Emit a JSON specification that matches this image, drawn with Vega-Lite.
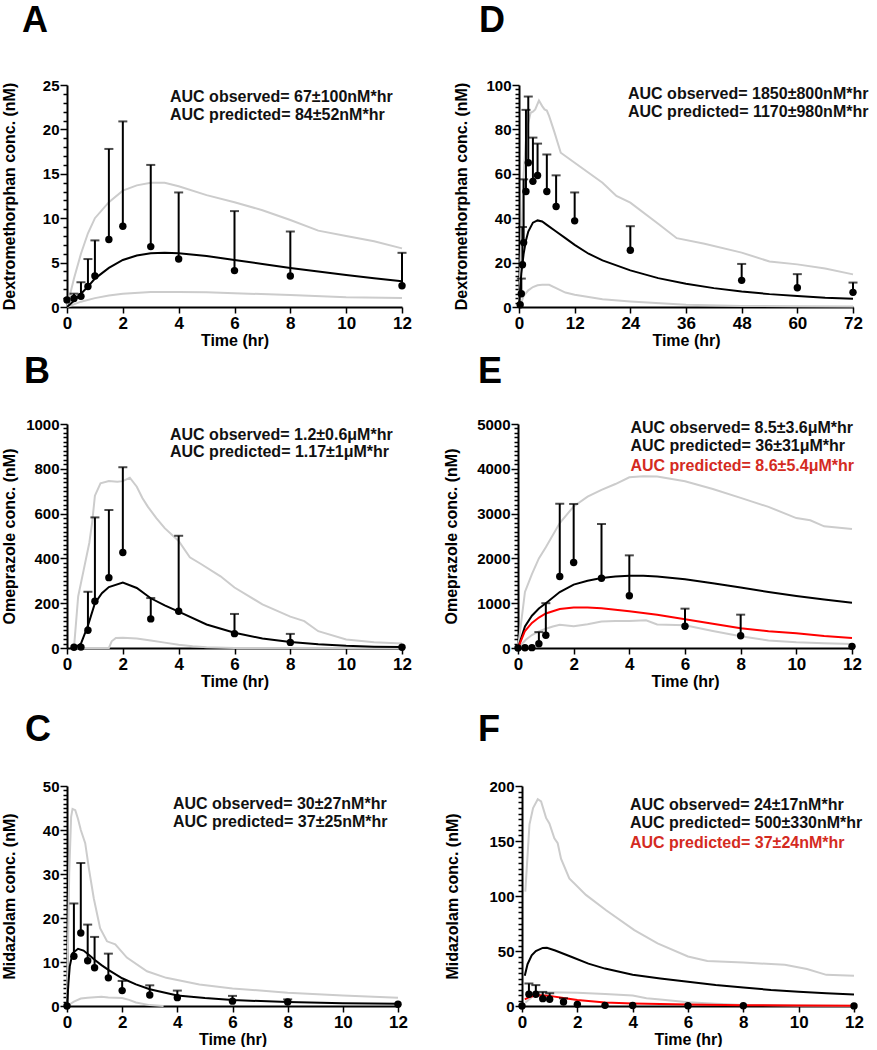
{
"$schema": "https://vega.github.io/schema/vega-lite/v6.json",
"padding": {"left": 0, "top": 3, "right": 0, "bottom": 0},
"datasets": {
"A": [
{"s":"obs","t":0,"v":0.8},{"s":"obs","t":0.25,"v":0.95,"hi":1.5},{"s":"obs","t":0.5,"v":1.2,"hi":2.8},{"s":"obs","t":0.75,"v":2.3,"hi":5.4},{"s":"obs","t":1,"v":3.5,"hi":7.5},{"s":"obs","t":1.5,"v":7.6,"hi":17.8},{"s":"obs","t":2,"v":9.1,"hi":20.9},{"s":"obs","t":3,"v":6.8,"hi":16.0},{"s":"obs","t":4,"v":5.4,"hi":12.9},{"s":"obs","t":6,"v":4.1,"hi":10.8},{"s":"obs","t":8,"v":3.5,"hi":8.5},{"s":"obs","t":12,"v":2.4,"hi":6.1},
{"s":"mean","t":0,"v":0},{"s":"mean","t":0.25,"v":0.7},{"s":"mean","t":0.5,"v":1.5},{"s":"mean","t":0.75,"v":2.3},{"s":"mean","t":1,"v":3.2},{"s":"mean","t":1.5,"v":4.4},{"s":"mean","t":2,"v":5.3},{"s":"mean","t":2.5,"v":5.8},{"s":"mean","t":3,"v":6.05},{"s":"mean","t":3.5,"v":6.1},{"s":"mean","t":4,"v":6.05},{"s":"mean","t":5,"v":5.75},{"s":"mean","t":6,"v":5.3},{"s":"mean","t":7,"v":4.85},{"s":"mean","t":8,"v":4.4},{"s":"mean","t":9,"v":4.0},{"s":"mean","t":10,"v":3.6},{"s":"mean","t":11,"v":3.25},{"s":"mean","t":12,"v":2.9},
{"s":"upper","t":0,"v":0},{"s":"upper","t":0.25,"v":3.2},{"s":"upper","t":0.5,"v":6.0},{"s":"upper","t":0.75,"v":8.3},{"s":"upper","t":1,"v":10.0},{"s":"upper","t":1.5,"v":11.8},{"s":"upper","t":2,"v":13.1},{"s":"upper","t":2.5,"v":13.7},{"s":"upper","t":3,"v":14.0},{"s":"upper","t":3.5,"v":14.0},{"s":"upper","t":4,"v":13.6},{"s":"upper","t":5,"v":12.6},{"s":"upper","t":6,"v":11.8},{"s":"upper","t":7,"v":10.9},{"s":"upper","t":8,"v":9.8},{"s":"upper","t":9,"v":8.6},{"s":"upper","t":10,"v":8.0},{"s":"upper","t":11,"v":7.4},{"s":"upper","t":12,"v":6.6},
{"s":"lower","t":0,"v":0},{"s":"lower","t":0.5,"v":0.6},{"s":"lower","t":1,"v":1.0},{"s":"lower","t":1.5,"v":1.3},{"s":"lower","t":2,"v":1.5},{"s":"lower","t":3,"v":1.7},{"s":"lower","t":4,"v":1.7},{"s":"lower","t":5,"v":1.65},{"s":"lower","t":6,"v":1.55},{"s":"lower","t":8,"v":1.35},{"s":"lower","t":10,"v":1.1},{"s":"lower","t":12,"v":1.0},
{"s":"txt","t":3.69,"v":23.7,"label":"AUC observed= 67±100nM*hr"},{"s":"txt","t":3.69,"v":21.66,"label":"AUC predicted= 84±52nM*hr"}
],
"D": [
{"s":"obs","t":0.25,"v":1},{"s":"obs","t":0.5,"v":6,"hi":12.8},{"s":"obs","t":0.75,"v":19,"hi":36},{"s":"obs","t":1,"v":29,"hi":57.5},{"s":"obs","t":1.5,"v":52,"hi":88.8},{"s":"obs","t":2,"v":65,"hi":94.8},{"s":"obs","t":3,"v":56.6,"hi":76.3},{"s":"obs","t":4,"v":59.2,"hi":73.6},{"s":"obs","t":6,"v":52,"hi":68.7},{"s":"obs","t":8,"v":45.3,"hi":59.3},{"s":"obs","t":12,"v":38.8,"hi":51.6},{"s":"obs","t":24,"v":25.6,"hi":36.4},{"s":"obs","t":48,"v":12,"hi":19.4},{"s":"obs","t":60,"v":8.7,"hi":14.8},{"s":"obs","t":72,"v":6.6,"hi":11},
{"s":"mean","t":0,"v":0},{"s":"mean","t":0.25,"v":8},{"s":"mean","t":0.5,"v":15},{"s":"mean","t":1,"v":24},{"s":"mean","t":1.5,"v":30},{"s":"mean","t":2,"v":34},{"s":"mean","t":3,"v":38},{"s":"mean","t":4,"v":39},{"s":"mean","t":5,"v":38.5},{"s":"mean","t":6,"v":37},{"s":"mean","t":8,"v":34},{"s":"mean","t":10,"v":31},{"s":"mean","t":12,"v":28},{"s":"mean","t":15,"v":24},{"s":"mean","t":18,"v":21},{"s":"mean","t":24,"v":16.5},{"s":"mean","t":30,"v":13},{"s":"mean","t":36,"v":10.5},{"s":"mean","t":42,"v":8.5},{"s":"mean","t":48,"v":7},{"s":"mean","t":54,"v":5.8},{"s":"mean","t":60,"v":5},{"s":"mean","t":66,"v":4.2},{"s":"mean","t":72,"v":3.7},
{"s":"upper","t":0,"v":0},{"s":"upper","t":0.5,"v":30},{"s":"upper","t":1,"v":60},{"s":"upper","t":1.5,"v":75},{"s":"upper","t":2,"v":83},{"s":"upper","t":2.5,"v":87.5},{"s":"upper","t":3,"v":88},{"s":"upper","t":3.5,"v":89},{"s":"upper","t":4.3,"v":93},{"s":"upper","t":5,"v":90.5},{"s":"upper","t":5.5,"v":89},{"s":"upper","t":6,"v":88.5},{"s":"upper","t":6.5,"v":86},{"s":"upper","t":7.6,"v":79},{"s":"upper","t":9,"v":69.5},{"s":"upper","t":12,"v":65},{"s":"upper","t":18,"v":56},{"s":"upper","t":21,"v":50},{"s":"upper","t":24,"v":47},{"s":"upper","t":30,"v":37.5},{"s":"upper","t":34,"v":31},{"s":"upper","t":40,"v":28.5},{"s":"upper","t":48,"v":24.5},{"s":"upper","t":54,"v":20.5},{"s":"upper","t":60,"v":19.2},{"s":"upper","t":66,"v":17.3},{"s":"upper","t":72,"v":14.7},
{"s":"lower","t":0,"v":0},{"s":"lower","t":0.5,"v":2},{"s":"lower","t":1,"v":5},{"s":"lower","t":2,"v":7.5},{"s":"lower","t":3,"v":9},{"s":"lower","t":4,"v":9.8},{"s":"lower","t":5,"v":10},{"s":"lower","t":6.5,"v":10},{"s":"lower","t":8,"v":8.5},{"s":"lower","t":10,"v":6.5},{"s":"lower","t":12,"v":5.5},{"s":"lower","t":18,"v":3.5},{"s":"lower","t":24,"v":2.5},{"s":"lower","t":36,"v":1},{"s":"lower","t":48,"v":0.5},{"s":"lower","t":60,"v":0.3},{"s":"lower","t":72,"v":0.2},
{"s":"txt","t":23.5,"v":96,"label":"AUC observed= 1850±800nM*hr"},{"s":"txt","t":23.5,"v":87.8,"label":"AUC predicted= 1170±980nM*hr"}
],
"B": [
{"s":"obs","t":0.25,"v":3},{"s":"obs","t":0.5,"v":4},{"s":"obs","t":0.75,"v":79,"hi":251},{"s":"obs","t":1,"v":209,"hi":583},{"s":"obs","t":1.5,"v":314,"hi":616},{"s":"obs","t":2,"v":426,"hi":807},{"s":"obs","t":3,"v":130,"hi":223},{"s":"obs","t":4,"v":164,"hi":501},{"s":"obs","t":6,"v":64,"hi":152},{"s":"obs","t":8,"v":25,"hi":63},{"s":"obs","t":12,"v":3},
{"s":"mean","t":0.25,"v":0},{"s":"mean","t":0.5,"v":20},{"s":"mean","t":0.75,"v":100},{"s":"mean","t":1,"v":200},{"s":"mean","t":1.25,"v":245},{"s":"mean","t":1.5,"v":272},{"s":"mean","t":2,"v":292},{"s":"mean","t":2.5,"v":268},{"s":"mean","t":3,"v":222},{"s":"mean","t":3.5,"v":190},{"s":"mean","t":4,"v":162},{"s":"mean","t":5,"v":105},{"s":"mean","t":6,"v":68},{"s":"mean","t":7,"v":42},{"s":"mean","t":8,"v":27},{"s":"mean","t":9,"v":17},{"s":"mean","t":10,"v":10},{"s":"mean","t":11,"v":6},{"s":"mean","t":12,"v":4},
{"s":"upper","t":0.25,"v":0},{"s":"upper","t":0.4,"v":230},{"s":"upper","t":0.6,"v":350},{"s":"upper","t":0.8,"v":470},{"s":"upper","t":0.9,"v":560},{"s":"upper","t":1.0,"v":680},{"s":"upper","t":1.2,"v":735},{"s":"upper","t":1.5,"v":745},{"s":"upper","t":1.8,"v":742},{"s":"upper","t":2.0,"v":745},{"s":"upper","t":2.25,"v":760},{"s":"upper","t":2.5,"v":720},{"s":"upper","t":2.7,"v":670},{"s":"upper","t":2.9,"v":630},{"s":"upper","t":3.2,"v":580},{"s":"upper","t":3.5,"v":535},{"s":"upper","t":4,"v":478},{"s":"upper","t":4.4,"v":405},{"s":"upper","t":4.8,"v":375},{"s":"upper","t":5.5,"v":320},{"s":"upper","t":6,"v":270},{"s":"upper","t":7,"v":195},{"s":"upper","t":8,"v":140},{"s":"upper","t":8.5,"v":120},{"s":"upper","t":9,"v":75},{"s":"upper","t":10,"v":38},{"s":"upper","t":11,"v":26},{"s":"upper","t":12,"v":20},
{"s":"lower","t":0.25,"v":0},{"s":"lower","t":1.5,"v":0},{"s":"lower","t":1.6,"v":30},{"s":"lower","t":1.75,"v":45},{"s":"lower","t":2,"v":46},{"s":"lower","t":2.5,"v":42},{"s":"lower","t":3,"v":33},{"s":"lower","t":3.5,"v":24},{"s":"lower","t":4,"v":15},{"s":"lower","t":4.5,"v":8},{"s":"lower","t":5,"v":3},{"s":"lower","t":6,"v":0},{"s":"lower","t":12,"v":0},
{"s":"txt","t":3.69,"v":953,"label":"AUC observed= 1.2±0.6μM*hr"},{"s":"txt","t":3.69,"v":876,"label":"AUC predicted= 1.17±1μM*hr"}
],
"E": [
{"s":"obs","t":0,"v":0},{"s":"obs","t":0.25,"v":5},{"s":"obs","t":0.5,"v":8},{"s":"obs","t":0.75,"v":96,"hi":355},{"s":"obs","t":1,"v":285,"hi":1000},{"s":"obs","t":1.5,"v":1595,"hi":3220},{"s":"obs","t":2,"v":1910,"hi":3215},{"s":"obs","t":3,"v":1558,"hi":2768},{"s":"obs","t":4,"v":1166,"hi":2068},{"s":"obs","t":6,"v":484,"hi":878},{"s":"obs","t":8,"v":275,"hi":744},{"s":"obs","t":12,"v":37},
{"s":"mean","t":0,"v":0},{"s":"mean","t":0.25,"v":480},{"s":"mean","t":0.5,"v":720},{"s":"mean","t":0.75,"v":880},{"s":"mean","t":1,"v":1000},{"s":"mean","t":1.5,"v":1250},{"s":"mean","t":2,"v":1415},{"s":"mean","t":2.5,"v":1500},{"s":"mean","t":3,"v":1560},{"s":"mean","t":3.5,"v":1595},{"s":"mean","t":4,"v":1610},{"s":"mean","t":4.5,"v":1612},{"s":"mean","t":5,"v":1595},{"s":"mean","t":6,"v":1535},{"s":"mean","t":7,"v":1445},{"s":"mean","t":8,"v":1350},{"s":"mean","t":9,"v":1250},{"s":"mean","t":10,"v":1160},{"s":"mean","t":11,"v":1080},{"s":"mean","t":12,"v":1010},
{"s":"red","t":0,"v":0},{"s":"red","t":0.25,"v":380},{"s":"red","t":0.5,"v":560},{"s":"red","t":0.75,"v":680},{"s":"red","t":1,"v":770},{"s":"red","t":1.5,"v":870},{"s":"red","t":2,"v":905},{"s":"red","t":2.5,"v":905},{"s":"red","t":3,"v":885},{"s":"red","t":4,"v":820},{"s":"red","t":5,"v":740},{"s":"red","t":6,"v":640},{"s":"red","t":7,"v":540},{"s":"red","t":8,"v":440},{"s":"red","t":9,"v":375},{"s":"red","t":10,"v":330},{"s":"red","t":11,"v":270},{"s":"red","t":12,"v":225},
{"s":"upper","t":0,"v":0},{"s":"upper","t":0.25,"v":1250},{"s":"upper","t":0.5,"v":1650},{"s":"upper","t":0.75,"v":2000},{"s":"upper","t":1,"v":2250},{"s":"upper","t":1.5,"v":2790},{"s":"upper","t":2,"v":3160},{"s":"upper","t":2.5,"v":3380},{"s":"upper","t":3,"v":3530},{"s":"upper","t":3.5,"v":3660},{"s":"upper","t":4,"v":3810},{"s":"upper","t":4.5,"v":3835},{"s":"upper","t":5,"v":3830},{"s":"upper","t":6,"v":3720},{"s":"upper","t":7,"v":3550},{"s":"upper","t":8,"v":3350},{"s":"upper","t":9,"v":3150},{"s":"upper","t":10,"v":2900},{"s":"upper","t":10.5,"v":2850},{"s":"upper","t":11,"v":2716},{"s":"upper","t":12,"v":2656},
{"s":"lower","t":0,"v":0},{"s":"lower","t":0.28,"v":185},{"s":"lower","t":0.5,"v":290},{"s":"lower","t":0.75,"v":370},{"s":"lower","t":1,"v":430},{"s":"lower","t":1.25,"v":480},{"s":"lower","t":1.5,"v":519},{"s":"lower","t":2,"v":485},{"s":"lower","t":2.5,"v":530},{"s":"lower","t":3,"v":590},{"s":"lower","t":3.5,"v":600},{"s":"lower","t":4,"v":600},{"s":"lower","t":4.6,"v":617},{"s":"lower","t":5,"v":525},{"s":"lower","t":6,"v":506},{"s":"lower","t":7,"v":380},{"s":"lower","t":8,"v":260},{"s":"lower","t":9,"v":170},{"s":"lower","t":10,"v":130},{"s":"lower","t":11,"v":105},{"s":"lower","t":12,"v":90},
{"s":"txt","t":4.04,"v":4911,"label":"AUC observed= 8.5±3.6μM*hr"},{"s":"txt","t":4.04,"v":4509,"label":"AUC predicted= 36±31μM*hr"},{"s":"txtr","t":4.04,"v":4062,"label":"AUC predicted= 8.6±5.4μM*hr"}
],
"C": [
{"s":"obs","t":0,"v":0},{"s":"obs","t":0.25,"v":11.3,"hi":23.3},{"s":"obs","t":0.5,"v":16.6,"hi":32.5},{"s":"obs","t":0.75,"v":10.3,"hi":18.5},{"s":"obs","t":1,"v":8.7,"hi":15.7},{"s":"obs","t":1.5,"v":6.4,"hi":11.9},{"s":"obs","t":2,"v":3.5,"hi":5.7},{"s":"obs","t":3,"v":2.5,"hi":4.7},{"s":"obs","t":4,"v":1.9,"hi":3.5},{"s":"obs","t":6,"v":1.1,"hi":2.3},{"s":"obs","t":8,"v":0.9,"hi":1.5},{"s":"obs","t":12,"v":0.4},
{"s":"mean","t":0,"v":0},{"s":"mean","t":0.05,"v":5},{"s":"mean","t":0.1,"v":9},{"s":"mean","t":0.2,"v":12},{"s":"mean","t":0.4,"v":13},{"s":"mean","t":0.6,"v":12.6},{"s":"mean","t":0.8,"v":11.6},{"s":"mean","t":1,"v":10.5},{"s":"mean","t":1.25,"v":9.3},{"s":"mean","t":1.5,"v":8.2},{"s":"mean","t":2,"v":6.3},{"s":"mean","t":2.5,"v":4.9},{"s":"mean","t":3,"v":3.8},{"s":"mean","t":4,"v":2.4},{"s":"mean","t":5,"v":1.8},{"s":"mean","t":6,"v":1.35},{"s":"mean","t":8,"v":0.9},{"s":"mean","t":10,"v":0.65},{"s":"mean","t":12,"v":0.5},
{"s":"upper","t":0,"v":0},{"s":"upper","t":0.08,"v":30},{"s":"upper","t":0.15,"v":43},{"s":"upper","t":0.2,"v":44.8},{"s":"upper","t":0.3,"v":44.5},{"s":"upper","t":0.4,"v":42.5},{"s":"upper","t":0.5,"v":40},{"s":"upper","t":0.66,"v":37},{"s":"upper","t":0.8,"v":31},{"s":"upper","t":0.97,"v":24.5},{"s":"upper","t":1.2,"v":17.7},{"s":"upper","t":1.45,"v":14.7},{"s":"upper","t":1.75,"v":14},{"s":"upper","t":2.17,"v":11},{"s":"upper","t":2.9,"v":7.9},{"s":"upper","t":3.6,"v":6.4},{"s":"upper","t":4.8,"v":4.9},{"s":"upper","t":6,"v":4.0},{"s":"upper","t":8,"v":3.0},{"s":"upper","t":10,"v":2.4},{"s":"upper","t":12,"v":1.9},
{"s":"lower","t":0,"v":0},{"s":"lower","t":0.25,"v":1.0},{"s":"lower","t":0.5,"v":1.7},{"s":"lower","t":0.75,"v":1.9},{"s":"lower","t":1,"v":2.0},{"s":"lower","t":1.25,"v":2.1},{"s":"lower","t":1.5,"v":1.95},{"s":"lower","t":2,"v":1.8},{"s":"lower","t":2.25,"v":1.4},{"s":"lower","t":2.5,"v":0.8},{"s":"lower","t":3,"v":0.2},{"s":"lower","t":3.5,"v":0},
{"s":"txt","t":3.84,"v":45.9,"label":"AUC observed= 30±27nM*hr"},{"s":"txt","t":3.84,"v":41.8,"label":"AUC predicted= 37±25nM*hr"}
],
"F": [
{"s":"obs","t":0,"v":0},{"s":"obs","t":0.25,"v":10.7,"hi":20.4},{"s":"obs","t":0.5,"v":10.7,"hi":19},{"s":"obs","t":0.75,"v":6.7,"hi":12.8},{"s":"obs","t":1,"v":6.1,"hi":11.6},{"s":"obs","t":1.5,"v":3.7,"hi":7},{"s":"obs","t":2,"v":1.5},{"s":"obs","t":3,"v":0.6},{"s":"obs","t":4,"v":0.4},{"s":"obs","t":6,"v":0.3},{"s":"obs","t":8,"v":0.2},{"s":"obs","t":12,"v":0.1},
{"s":"mean","t":0.1,"v":27.5},{"s":"mean","t":0.2,"v":38},{"s":"mean","t":0.35,"v":46},{"s":"mean","t":0.5,"v":50},{"s":"mean","t":0.75,"v":52.8},{"s":"mean","t":0.9,"v":53},{"s":"mean","t":1.2,"v":50.5},{"s":"mean","t":1.5,"v":47.5},{"s":"mean","t":1.8,"v":44.5},{"s":"mean","t":2.4,"v":38.5},{"s":"mean","t":3,"v":34},{"s":"mean","t":4,"v":28.5},{"s":"mean","t":5,"v":25},{"s":"mean","t":6,"v":22},{"s":"mean","t":7,"v":19},{"s":"mean","t":8,"v":16.8},{"s":"mean","t":9,"v":14.6},{"s":"mean","t":10,"v":13},{"s":"mean","t":11,"v":11.7},{"s":"mean","t":12,"v":10.5},
{"s":"red","t":0.1,"v":6},{"s":"red","t":0.3,"v":8.5},{"s":"red","t":0.5,"v":9.5},{"s":"red","t":0.75,"v":9.8},{"s":"red","t":1,"v":9.2},{"s":"red","t":1.5,"v":7.2},{"s":"red","t":2,"v":5.5},{"s":"red","t":3,"v":3.2},{"s":"red","t":4,"v":2.3},{"s":"red","t":5,"v":1.8},{"s":"red","t":6,"v":1.3},{"s":"red","t":8,"v":0.7},{"s":"red","t":10,"v":0.4},{"s":"red","t":12,"v":0.3},
{"s":"upper","t":0.12,"v":104},{"s":"upper","t":0.27,"v":165},{"s":"upper","t":0.4,"v":180},{"s":"upper","t":0.57,"v":188},{"s":"upper","t":0.69,"v":186},{"s":"upper","t":0.87,"v":171},{"s":"upper","t":0.99,"v":166},{"s":"upper","t":1.17,"v":152.5},{"s":"upper","t":1.29,"v":148},{"s":"upper","t":1.41,"v":134},{"s":"upper","t":1.71,"v":116},{"s":"upper","t":2.31,"v":101},{"s":"upper","t":3.04,"v":87},{"s":"upper","t":4.06,"v":69},{"s":"upper","t":4.9,"v":57},{"s":"upper","t":6,"v":45},{"s":"upper","t":6.7,"v":41},{"s":"upper","t":8,"v":39.5},{"s":"upper","t":9.5,"v":37.4},{"s":"upper","t":10.3,"v":33.7},{"s":"upper","t":11,"v":28.3},{"s":"upper","t":12,"v":27.4},
{"s":"lower","t":0.12,"v":3},{"s":"lower","t":0.4,"v":9},{"s":"lower","t":0.75,"v":12},{"s":"lower","t":1,"v":12.5},{"s":"lower","t":2,"v":12},{"s":"lower","t":3,"v":11},{"s":"lower","t":4,"v":9.5},{"s":"lower","t":4.5,"v":7},{"s":"lower","t":5,"v":6},{"s":"lower","t":6,"v":3.5},{"s":"lower","t":7,"v":2},{"s":"lower","t":8,"v":1},{"s":"lower","t":10,"v":0.5},{"s":"lower","t":12,"v":0.3},
{"s":"txt","t":3.9,"v":182.6,"label":"AUC observed= 24±17nM*hr"},{"s":"txt","t":3.9,"v":166,"label":"AUC predicted= 500±330nM*hr"},{"s":"txtr","t":3.9,"v":148,"label":"AUC predicted= 37±24nM*hr"}
]
},
"vconcat": [
{"vconcat": [
{"hconcat": [
{"width":335,"height":222,"title":{"text":"A","offset":38,"dx":21},"data":{"name":"A"},
"encoding":{"x":{"field":"t","type":"quantitative","scale":{"domain":[0,12],"nice":false,"zero":false},"axis":{"values":[0,2,4,6,8,10,12],"title":"Time (hr)"}},
"y":{"field":"v","type":"quantitative","scale":{"domain":[0,25],"nice":false},"axis":{"values":[0,0.5,1,1.5,2,2.5,3,3.5,4,4.5,5,5.5,6,6.5,7,7.5,8,8.5,9,9.5,10,10.5,11,11.5,12,12.5,13,13.5,14,14.5,15,15.5,16,16.5,17,17.5,18,18.5,19,19.5,20,20.5,21,21.5,22,22.5,23,23.5,24,24.5,25],"format":"d","labelExpr":"datum.value % 5 == 0 ? datum.label : ''","tickSize":{"condition":{"test":"datum.value % 5 == 0","value":7},"value":4},"title":"Dextromethorphan conc. (nM)","titleX":-50}}},
"layer":[
{"transform":[{"filter":"datum.s=='upper'||datum.s=='lower'"}],"mark":{"type":"line","color":"#cccccc","strokeWidth":2},"encoding":{"detail":{"field":"s"}}},
{"transform":[{"filter":"datum.s=='mean'"}],"mark":{"type":"line","color":"#000000","strokeWidth":2},"encoding":{}},
{"transform":[{"filter":"datum.s=='red'"}],"mark":{"type":"line","color":"#ff0000","strokeWidth":2},"encoding":{}},
{"transform":[{"filter":"datum.s=='obs' && isValid(datum.hi)"}],"mark":{"type":"rule","color":"#000000","strokeWidth":2},"encoding":{"y2":{"field":"hi"}}},
{"transform":[{"filter":"datum.s=='obs' && isValid(datum.hi)"}],"mark":{"type":"tick","orient":"horizontal","color":"#000000","thickness":2,"size":9},"encoding":{"y":{"field":"hi","type":"quantitative"}}},
{"transform":[{"filter":"datum.s=='obs'"}],"mark":{"type":"circle","color":"#000000","size":55,"opacity":1},"encoding":{}},
{"transform":[{"filter":"datum.s=='txt'||datum.s=='txtr'"}],"mark":{"type":"text","align":"left","baseline":"middle","fontSize":16,"fontWeight":"bold"},"encoding":{"text":{"field":"label"},"color":{"condition":{"test":"datum.s=='txtr'","value":"#d42b1f"},"value":"#111111"}}}
]},
{"width":334,"height":222,"title":{"text":"D","offset":38,"dx":26},"data":{"name":"D"},
"encoding":{"x":{"field":"t","type":"quantitative","scale":{"domain":[0,72],"nice":false,"zero":false},"axis":{"values":[0,12,24,36,48,60,72],"title":"Time (hr)"}},
"y":{"field":"v","type":"quantitative","scale":{"domain":[0,100],"nice":false},"axis":{"values":[0,2,4,6,8,10,12,14,16,18,20,22,24,26,28,30,32,34,36,38,40,42,44,46,48,50,52,54,56,58,60,62,64,66,68,70,72,74,76,78,80,82,84,86,88,90,92,94,96,98,100],"format":"d","labelExpr":"datum.value % 20 == 0 ? datum.label : ''","tickSize":{"condition":{"test":"datum.value % 20 == 0","value":7},"value":4},"title":"Dextromethorphan conc. (nM)","titleX":-50}}},
"layer":[
{"transform":[{"filter":"datum.s=='upper'||datum.s=='lower'"}],"mark":{"type":"line","color":"#cccccc","strokeWidth":2},"encoding":{"detail":{"field":"s"}}},
{"transform":[{"filter":"datum.s=='mean'"}],"mark":{"type":"line","color":"#000000","strokeWidth":2},"encoding":{}},
{"transform":[{"filter":"datum.s=='red'"}],"mark":{"type":"line","color":"#ff0000","strokeWidth":2},"encoding":{}},
{"transform":[{"filter":"datum.s=='obs' && isValid(datum.hi)"}],"mark":{"type":"rule","color":"#000000","strokeWidth":2},"encoding":{"y2":{"field":"hi"}}},
{"transform":[{"filter":"datum.s=='obs' && isValid(datum.hi)"}],"mark":{"type":"tick","orient":"horizontal","color":"#000000","thickness":2,"size":9},"encoding":{"y":{"field":"hi","type":"quantitative"}}},
{"transform":[{"filter":"datum.s=='obs'"}],"mark":{"type":"circle","color":"#000000","size":55,"opacity":1},"encoding":{}},
{"transform":[{"filter":"datum.s=='txt'||datum.s=='txtr'"}],"mark":{"type":"text","align":"left","baseline":"middle","fontSize":16,"fontWeight":"bold"},"encoding":{"text":{"field":"label"},"color":{"condition":{"test":"datum.s=='txtr'","value":"#d42b1f"},"value":"#111111"}}}
]}
],"spacing":40},
{"hconcat": [
{"width":335,"height":224,"title":{"text":"B","offset":26,"dx":23},"data":{"name":"B"},
"encoding":{"x":{"field":"t","type":"quantitative","scale":{"domain":[0,12],"nice":false,"zero":false},"axis":{"values":[0,2,4,6,8,10,12],"title":"Time (hr)"}},
"y":{"field":"v","type":"quantitative","scale":{"domain":[0,1000],"nice":false},"axis":{"values":[0,20,40,60,80,100,120,140,160,180,200,220,240,260,280,300,320,340,360,380,400,420,440,460,480,500,520,540,560,580,600,620,640,660,680,700,720,740,760,780,800,820,840,860,880,900,920,940,960,980,1000],"format":"d","labelExpr":"datum.value % 200 == 0 ? datum.label : ''","tickSize":{"condition":{"test":"datum.value % 200 == 0","value":7},"value":4},"title":"Omeprazole conc. (nM)","titleX":-50}}},
"layer":[
{"transform":[{"filter":"datum.s=='upper'||datum.s=='lower'"}],"mark":{"type":"line","color":"#cccccc","strokeWidth":2},"encoding":{"detail":{"field":"s"}}},
{"transform":[{"filter":"datum.s=='mean'"}],"mark":{"type":"line","color":"#000000","strokeWidth":2},"encoding":{}},
{"transform":[{"filter":"datum.s=='red'"}],"mark":{"type":"line","color":"#ff0000","strokeWidth":2},"encoding":{}},
{"transform":[{"filter":"datum.s=='obs' && isValid(datum.hi)"}],"mark":{"type":"rule","color":"#000000","strokeWidth":2},"encoding":{"y2":{"field":"hi"}}},
{"transform":[{"filter":"datum.s=='obs' && isValid(datum.hi)"}],"mark":{"type":"tick","orient":"horizontal","color":"#000000","thickness":2,"size":9},"encoding":{"y":{"field":"hi","type":"quantitative"}}},
{"transform":[{"filter":"datum.s=='obs'"}],"mark":{"type":"circle","color":"#000000","size":55,"opacity":1},"encoding":{}},
{"transform":[{"filter":"datum.s=='txt'||datum.s=='txtr'"}],"mark":{"type":"text","align":"left","baseline":"middle","fontSize":16,"fontWeight":"bold"},"encoding":{"text":{"field":"label"},"color":{"condition":{"test":"datum.s=='txtr'","value":"#d42b1f"},"value":"#111111"}}}
]},
{"width":334,"height":224,"title":{"text":"E","offset":26,"dx":35},"data":{"name":"E"},
"encoding":{"x":{"field":"t","type":"quantitative","scale":{"domain":[0,12],"nice":false,"zero":false},"axis":{"values":[0,2,4,6,8,10,12],"title":"Time (hr)"}},
"y":{"field":"v","type":"quantitative","scale":{"domain":[0,5000],"nice":false},"axis":{"values":[0,100,200,300,400,500,600,700,800,900,1000,1100,1200,1300,1400,1500,1600,1700,1800,1900,2000,2100,2200,2300,2400,2500,2600,2700,2800,2900,3000,3100,3200,3300,3400,3500,3600,3700,3800,3900,4000,4100,4200,4300,4400,4500,4600,4700,4800,4900,5000],"format":"d","labelExpr":"datum.value % 1000 == 0 ? datum.label : ''","tickSize":{"condition":{"test":"datum.value % 1000 == 0","value":7},"value":4},"title":"Omeprazole conc. (nM)","titleX":-59}}},
"layer":[
{"transform":[{"filter":"datum.s=='upper'||datum.s=='lower'"}],"mark":{"type":"line","color":"#cccccc","strokeWidth":2},"encoding":{"detail":{"field":"s"}}},
{"transform":[{"filter":"datum.s=='mean'"}],"mark":{"type":"line","color":"#000000","strokeWidth":2},"encoding":{}},
{"transform":[{"filter":"datum.s=='red'"}],"mark":{"type":"line","color":"#ff0000","strokeWidth":2},"encoding":{}},
{"transform":[{"filter":"datum.s=='obs' && isValid(datum.hi)"}],"mark":{"type":"rule","color":"#000000","strokeWidth":2},"encoding":{"y2":{"field":"hi"}}},
{"transform":[{"filter":"datum.s=='obs' && isValid(datum.hi)"}],"mark":{"type":"tick","orient":"horizontal","color":"#000000","thickness":2,"size":9},"encoding":{"y":{"field":"hi","type":"quantitative"}}},
{"transform":[{"filter":"datum.s=='obs'"}],"mark":{"type":"circle","color":"#000000","size":55,"opacity":1},"encoding":{}},
{"transform":[{"filter":"datum.s=='txt'||datum.s=='txtr'"}],"mark":{"type":"text","align":"left","baseline":"middle","fontSize":16,"fontWeight":"bold"},"encoding":{"text":{"field":"label"},"color":{"condition":{"test":"datum.s=='txtr'","value":"#d42b1f"},"value":"#111111"}}}
]}
],"spacing":30}
],"spacing":6},
{"hconcat": [
{"width":331,"height":220,"title":{"text":"C","offset":30,"dx":24},"data":{"name":"C"},
"encoding":{"x":{"field":"t","type":"quantitative","scale":{"domain":[0,12],"nice":false,"zero":false},"axis":{"values":[0,2,4,6,8,10,12],"title":"Time (hr)"}},
"y":{"field":"v","type":"quantitative","scale":{"domain":[0,50],"nice":false},"axis":{"values":[0,1,2,3,4,5,6,7,8,9,10,11,12,13,14,15,16,17,18,19,20,21,22,23,24,25,26,27,28,29,30,31,32,33,34,35,36,37,38,39,40,41,42,43,44,45,46,47,48,49,50],"format":"d","labelExpr":"datum.value % 10 == 0 ? datum.label : ''","tickSize":{"condition":{"test":"datum.value % 10 == 0","value":7},"value":4},"title":"Midazolam conc. (nM)","titleX":-50}}},
"layer":[
{"transform":[{"filter":"datum.s=='upper'||datum.s=='lower'"}],"mark":{"type":"line","color":"#cccccc","strokeWidth":2},"encoding":{"detail":{"field":"s"}}},
{"transform":[{"filter":"datum.s=='mean'"}],"mark":{"type":"line","color":"#000000","strokeWidth":2},"encoding":{}},
{"transform":[{"filter":"datum.s=='red'"}],"mark":{"type":"line","color":"#ff0000","strokeWidth":2},"encoding":{}},
{"transform":[{"filter":"datum.s=='obs' && isValid(datum.hi)"}],"mark":{"type":"rule","color":"#000000","strokeWidth":2},"encoding":{"y2":{"field":"hi"}}},
{"transform":[{"filter":"datum.s=='obs' && isValid(datum.hi)"}],"mark":{"type":"tick","orient":"horizontal","color":"#000000","thickness":2,"size":9},"encoding":{"y":{"field":"hi","type":"quantitative"}}},
{"transform":[{"filter":"datum.s=='obs'"}],"mark":{"type":"circle","color":"#000000","size":55,"opacity":1},"encoding":{}},
{"transform":[{"filter":"datum.s=='txt'||datum.s=='txtr'"}],"mark":{"type":"text","align":"left","baseline":"middle","fontSize":16,"fontWeight":"bold"},"encoding":{"text":{"field":"label"},"color":{"condition":{"test":"datum.s=='txtr'","value":"#d42b1f"},"value":"#111111"}}}
]},
{"width":332,"height":220,"title":{"text":"F","offset":30,"dx":34},"data":{"name":"F"},
"encoding":{"x":{"field":"t","type":"quantitative","scale":{"domain":[0,12],"nice":false,"zero":false},"axis":{"values":[0,2,4,6,8,10,12],"title":"Time (hr)"}},
"y":{"field":"v","type":"quantitative","scale":{"domain":[0,200],"nice":false},"axis":{"values":[0,5,10,15,20,25,30,35,40,45,50,55,60,65,70,75,80,85,90,95,100,105,110,115,120,125,130,135,140,145,150,155,160,165,170,175,180,185,190,195,200],"format":"d","labelExpr":"datum.value % 50 == 0 ? datum.label : ''","tickSize":{"condition":{"test":"datum.value % 50 == 0","value":7},"value":4},"title":"Midazolam conc. (nM)","titleX":-62}}},
"layer":[
{"transform":[{"filter":"datum.s=='upper'||datum.s=='lower'"}],"mark":{"type":"line","color":"#cccccc","strokeWidth":2},"encoding":{"detail":{"field":"s"}}},
{"transform":[{"filter":"datum.s=='mean'"}],"mark":{"type":"line","color":"#000000","strokeWidth":2},"encoding":{}},
{"transform":[{"filter":"datum.s=='red'"}],"mark":{"type":"line","color":"#ff0000","strokeWidth":2},"encoding":{}},
{"transform":[{"filter":"datum.s=='obs' && isValid(datum.hi)"}],"mark":{"type":"rule","color":"#000000","strokeWidth":2},"encoding":{"y2":{"field":"hi"}}},
{"transform":[{"filter":"datum.s=='obs' && isValid(datum.hi)"}],"mark":{"type":"tick","orient":"horizontal","color":"#000000","thickness":2,"size":9},"encoding":{"y":{"field":"hi","type":"quantitative"}}},
{"transform":[{"filter":"datum.s=='obs'"}],"mark":{"type":"circle","color":"#000000","size":55,"opacity":1},"encoding":{}},
{"transform":[{"filter":"datum.s=='txt'||datum.s=='txtr'"}],"mark":{"type":"text","align":"left","baseline":"middle","fontSize":16,"fontWeight":"bold"},"encoding":{"text":{"field":"label"},"color":{"condition":{"test":"datum.s=='txtr'","value":"#d42b1f"},"value":"#111111"}}}
]}
],"spacing":35}
],
"spacing": 23,
"config": {
"font": "Liberation Sans",
"background": "#ffffff",
"view": {"stroke": null},
"axis": {"grid": false, "domainColor": "#000000", "domainWidth": 2, "tickColor": "#000000", "tickWidth": 1.5, "labelColor": "#000000", "labelFont": "Liberation Sans", "labelFontWeight": "bold", "titleFont": "Liberation Sans", "titleFontWeight": "bold", "titleFontSize": 16, "titleColor": "#000000", "labelOverlap": false, "labelFlush": false},
"axisX": {"labelFontSize": 17, "tickSize": 6, "labelPadding": 2, "titlePadding": 1},
"axisY": {"labelFontSize": 15, "labelPadding": 1},
"title": {"fontSize": 36, "fontWeight": "bold", "anchor": "start", "frame": "bounds", "color": "#000000", "font": "Liberation Sans"}
}
}
